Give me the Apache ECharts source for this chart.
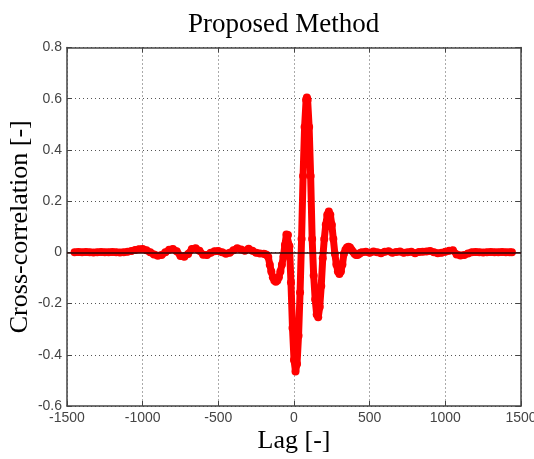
<!DOCTYPE html>
<html>
<head>
<meta charset="utf-8">
<script src="https://cdn.jsdelivr.net/npm/echarts/dist/echarts.min.js"></script>
<style>
html,body{margin:0;padding:0;background:#fff;}
#chart{width:534px;height:459px;}
</style>
</head>
<body>
<div id="chart"></div>
<script>
// lag values (x) and cross-correlation (y)
var lags = [
  -1450,-1425,-1400,-1375,-1350,-1325,-1300,-1275,-1250,-1225,-1200,-1175,-1150,-1125,-1100,
  -1075,-1050,-1025,-1000,-975,-950,-925,-900,-875,-850,-825,-800,-775,-750,-725,-700,
  -675,-650,-625,-600,-575,-550,-525,-500,-475,-450,-425,-400,-375,-350,-325,-300,
  -275,-250,-225,-200,
  -190,-180,-170,-160,-150,-140,-130,-120,-110,-100,-90,-80,-70,-60,-50,-40,-30,-20,-10,
  0,10,20,30,40,50,60,70,80,85,90,100,110,120,130,140,150,160,170,180,190,
  200,210,220,230,240,250,260,270,280,290,300,310,320,330,340,350,360,370,380,390,
  400,410,420,430,440,450,
  475,500,525,550,575,600,625,650,675,700,725,750,775,800,825,850,875,900,925,950,975,
  1000,1025,1050,1075,1100,1125,1150,1175,1200,1225,1250,1275,1300,1325,1350,1375,1400,1425,1440
];
var corr = [
  0,0.001,0,0.001,0,-0.001,0,0.001,0,0,0.001,0,-0.001,0,0.002,
  0.005,0.009,0.012,0.013,0.008,0,-0.008,-0.013,-0.01,0,0.01,0.013,0.004,-0.014,-0.017,-0.006,
  0.013,0.016,0.006,-0.009,-0.01,-0.002,0.004,0.005,0,-0.005,-0.002,0.008,0.016,0.011,0.006,0.014,
  0.006,-0.002,-0.004,-0.005,
  -0.007,-0.01,-0.018,-0.048,-0.075,-0.097,-0.11,-0.115,-0.11,-0.097,-0.075,-0.048,-0.016,0.029,0.07,0.068,0.024,-0.118,-0.295,
  -0.42,-0.465,-0.436,-0.326,-0.157,0.052,0.298,0.49,0.596,0.605,0.596,0.49,0.298,0.052,-0.09,-0.184,-0.243,-0.253,-0.213,-0.131,-0.023,
  0.052,0.108,0.147,0.16,0.147,0.108,0.052,-0.005,-0.047,-0.075,-0.085,-0.075,-0.047,-0.005,0.01,0.019,0.022,0.019,0.01,0.002,
  -0.005,-0.01,-0.01,-0.006,-0.002,0,
  0.002,-0.002,0.003,0,-0.003,0.002,0.004,-0.002,0.001,0.003,-0.002,0,0.002,-0.003,0.001,0.002,0.003,0.005,0,-0.003,-0.002,
  0.002,0.006,0.008,-0.008,-0.012,-0.01,-0.004,0,0.001,0,-0.001,0,0.001,0,0,0.001,0,0,0
];

var myChart = echarts.init(document.getElementById('chart'));
var tickFont = {color:'#444', fontSize:14, fontFamily:'"Liberation Sans Narrow","Liberation Sans",Arial,sans-serif'};
var frameLine = {show:true, onZero:false, lineStyle:{color:'#444', width:1.5}};
var gridLine = {show:true, lineStyle:{color:'#555', width:1, type:[1,3]}};
var inTick = {show:true, inside:true, length:5, lineStyle:{color:'#444'}};

var option = {
    animation:false,
    backgroundColor:'#fff',
    title:{
        text:'Proposed Method',
        left:183,
        top:6,
        textStyle:{
            color:'#000',
            fontWeight:'normal',
            fontSize:27,
            fontFamily:'"Liberation Serif","Times New Roman",serif'
        }
    },
    grid:{left:67, right:13, top:47.5, bottom:53, outerBoundsMode:'none', containLabel:false},
    xAxis:[{
        type:'value',
        min:-1500, max:1500, interval:500,
        name:'Lag [-]',
        nameLocation:'middle',
        nameGap:22,
        nameMoveOverlap:false,
        nameTextStyle:{color:'#000', fontSize:26, fontFamily:'"Liberation Serif","Times New Roman",serif'},
        axisLine:frameLine,
        axisTick:inTick,
        axisLabel:Object.assign({margin:5, formatter:function(v){return String(v);}}, tickFont),
        splitLine:gridLine
    },{
        type:'value', position:'top',
        min:-1500, max:1500, interval:500,
        axisLine:frameLine,
        axisTick:inTick,
        axisLabel:{show:false},
        splitLine:{show:false}
    }],
    yAxis:[{
        type:'value',
        min:-0.6, max:0.8, interval:0.2,
        name:'Cross-correlation [-]',
        nameLocation:'middle',
        nameGap:34,
        nameMoveOverlap:false,
        nameTextStyle:{color:'#000', fontSize:26, fontFamily:'"Liberation Serif","Times New Roman",serif'},
        axisLine:frameLine,
        axisTick:inTick,
        axisLabel:Object.assign({margin:5, formatter:function(v){return String(+v.toFixed(1));}}, tickFont),
        splitLine:gridLine
    },{
        type:'value', position:'right',
        min:-0.6, max:0.8, interval:0.2,
        axisLine:frameLine,
        axisTick:inTick,
        axisLabel:{show:false},
        splitLine:{show:false}
    }],
    series:[{
        type:'line',
        data:lags.map(function(x,i){return [x, corr[i]];}),
        symbol:'circle',
        symbolSize:8,
        showSymbol:true,
        itemStyle:{color:'#f00'},
        lineStyle:{color:'#f00', width:7},
        markLine:{
            silent:true,
            symbol:'none',
            label:{show:false},
            lineStyle:{color:'#2a0a0a', width:1.5, type:'solid'},
            data:[{yAxis:0}]
        }
    }]
};
myChart.setOption(option);
</script>
</body>
</html>
